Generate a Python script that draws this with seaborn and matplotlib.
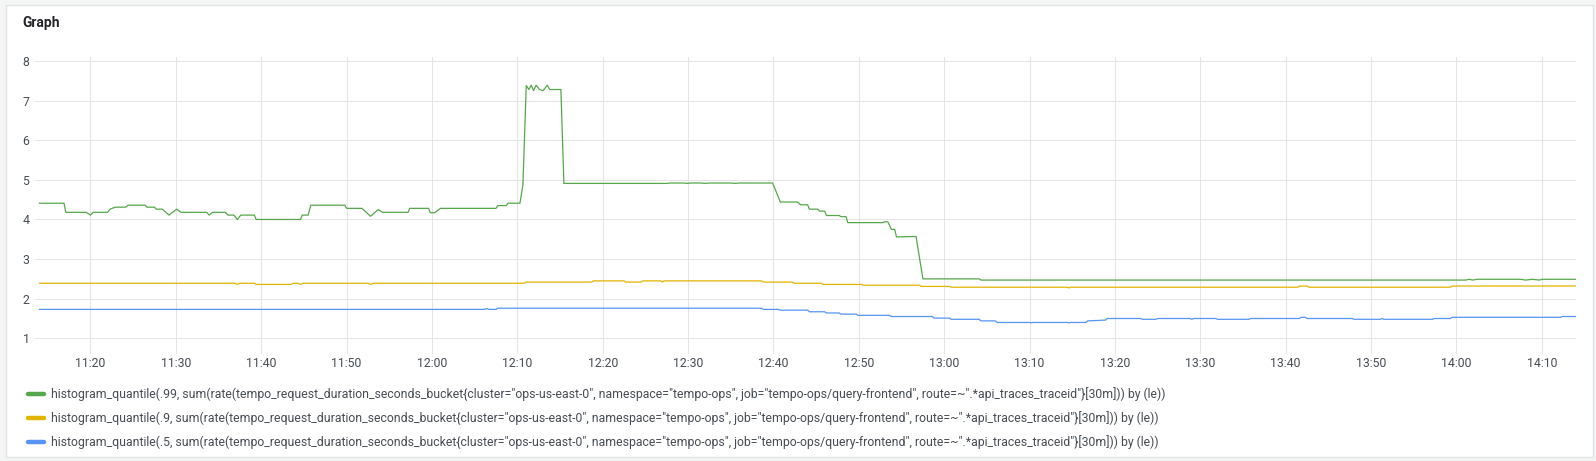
import numpy as np
import pandas as pd
import matplotlib
matplotlib.use("Agg")
import matplotlib.pyplot as plt
import matplotlib.dates as mdates
from matplotlib.patches import Rectangle
from matplotlib.lines import Line2D
import seaborn as sns

# ---------------- data (minutes after 11:14, value in seconds) ----------------
start_time = "2021-06-01 11:14:00"

series_names = [
    'histogram_quantile(.99, sum(rate(tempo_request_duration_seconds_bucket{cluster="ops-us-east-0", namespace="tempo-ops", job="tempo-ops/query-frontend", route=~".*api_traces_traceid"}[30m])) by (le))',
    'histogram_quantile(.9, sum(rate(tempo_request_duration_seconds_bucket{cluster="ops-us-east-0", namespace="tempo-ops", job="tempo-ops/query-frontend", route=~".*api_traces_traceid"}[30m])) by (le))',
    'histogram_quantile(.5, sum(rate(tempo_request_duration_seconds_bucket{cluster="ops-us-east-0", namespace="tempo-ops", job="tempo-ops/query-frontend", route=~".*api_traces_traceid"}[30m])) by (le))',
]
series_colors = ["#56a64b", "#e0b400", "#5794f2"]

p99_min = [0, 2.9, 3.1, 5.5, 6.0, 6.3, 8.0, 8.3, 8.9, 10.1, 10.4, 12.4, 12.6, 13.5, 13.7, 14.4,
           15.2, 16.1, 16.6, 19.6, 19.9, 20.3, 21.8, 22.1, 22.8, 23.2, 23.6, 25.2, 25.4, 30.6,
           30.8, 31.5, 31.8, 35.8, 36.0, 37.8, 38.2, 38.8, 39.7, 40.2, 43.2, 43.4, 45.6, 45.8,
           46.3, 47.0, 53.5, 53.7, 54.7, 54.9, 56.3, 56.65, 57.04, 57.35, 57.63, 57.9, 58.2,
           58.6, 59.0, 59.2, 59.5, 59.8, 61.1, 61.45, 73.6, 73.8, 75.5, 75.8, 76.3, 77.5, 78.0,
           78.5, 81.0, 81.5, 82.0, 85.9, 86.8, 88.8, 89.2, 90.0, 90.2, 91.2, 91.4, 92.0, 92.2,
           93.7, 93.9, 94.5, 94.7, 98.8, 99.0, 99.4, 99.8, 100.2, 100.4, 102.7, 103.5, 110.1,
           110.3, 167.1, 167.5, 167.9, 168.4, 173.5, 174.1, 174.9, 175.7, 176.0, 180]
p99_val = [4.41, 4.41, 4.18, 4.18, 4.11, 4.18, 4.18, 4.26, 4.31, 4.31, 4.36, 4.36, 4.31, 4.31, 4.26, 4.26,
           4.11, 4.26, 4.18, 4.18, 4.11, 4.18, 4.18, 4.11, 4.11, 4.00, 4.11, 4.11, 4.00, 4.00,
           4.11, 4.11, 4.36, 4.36, 4.28, 4.28, 4.20, 4.08, 4.25, 4.18, 4.18, 4.28, 4.28, 4.17,
           4.17, 4.28, 4.28, 4.35, 4.35, 4.41, 4.41, 4.87, 7.38, 7.28, 7.39, 7.25, 7.39,
           7.28, 7.25, 7.30, 7.39, 7.28, 7.28, 4.91, 4.91, 4.92, 4.92, 4.91, 4.92, 4.92, 4.91,
           4.92, 4.92, 4.91, 4.92, 4.92, 4.44, 4.44, 4.37, 4.37, 4.26, 4.26, 4.21, 4.21, 4.10,
           4.10, 4.07, 4.07, 3.92, 3.92, 3.94, 3.94, 3.75, 3.75, 3.56, 3.57, 2.50, 2.50,
           2.47, 2.47, 2.49, 2.47, 2.49, 2.49, 2.47, 2.49, 2.47, 2.49, 2.49]

p90_min = [0, 22.9, 23.2, 23.5, 25.2, 25.4, 29.5, 29.7, 30.3, 30.6, 30.9, 38.5, 38.8, 39.1,
           56.8, 57.0, 64.7, 64.9, 68.5, 68.7, 70.5, 70.7, 72.8, 73.0, 73.2, 84.6, 84.8, 88.2,
           88.4, 91.6, 91.8, 96.3, 96.5, 103.1, 103.3, 106.6, 106.8, 120.4, 120.6, 120.8,
           147.4, 147.6, 148.5, 148.7, 165.3, 165.5, 180]
p90_val = [2.39, 2.39, 2.36, 2.39, 2.39, 2.36, 2.36, 2.39, 2.39, 2.36, 2.39, 2.39, 2.36, 2.39,
           2.39, 2.42, 2.42, 2.45, 2.45, 2.42, 2.42, 2.45, 2.45, 2.42, 2.45, 2.45, 2.42, 2.42,
           2.39, 2.39, 2.36, 2.36, 2.34, 2.34, 2.31, 2.31, 2.29, 2.29, 2.27, 2.29,
           2.29, 2.32, 2.32, 2.29, 2.29, 2.32, 2.32]

p50_min = [0, 52.1, 52.4, 52.7, 53.5, 53.7, 84.6, 84.8, 86.6, 86.8, 90.0, 90.2, 92.0, 92.2,
           93.7, 93.9, 95.7, 95.9, 99.6, 99.8, 104.6, 104.8, 106.6, 106.8, 110.1, 110.3,
           112.0, 112.2, 116.0, 116.2, 116.4, 120.4, 120.6, 120.8, 122.6, 122.8, 124.9, 125.1,
           129.0, 129.2, 130.8, 131.0, 134.8, 135.0, 135.2, 137.8, 138.0, 141.7, 141.9,
           147.6, 147.8, 148.3, 148.5, 153.8, 154.0, 157.1, 157.3, 157.5, 163.2, 163.4,
           165.3, 165.5, 178.2, 178.4, 180]
p50_val = [1.73, 1.73, 1.75, 1.73, 1.73, 1.76, 1.76, 1.73, 1.73, 1.71, 1.71, 1.67, 1.67, 1.64,
           1.64, 1.61, 1.61, 1.58, 1.58, 1.55, 1.55, 1.51, 1.51, 1.48, 1.48, 1.44,
           1.44, 1.40, 1.40, 1.39, 1.40, 1.40, 1.39, 1.40, 1.40, 1.44, 1.46, 1.50,
           1.50, 1.48, 1.48, 1.50, 1.50, 1.48, 1.50, 1.50, 1.48, 1.48, 1.50,
           1.50, 1.53, 1.53, 1.50, 1.50, 1.48, 1.48, 1.50, 1.48, 1.48, 1.50,
           1.50, 1.53, 1.53, 1.55, 1.55]

y_ticks = [1, 2, 3, 4, 5, 6, 7, 8]

assert len(p99_min) == len(p99_val)
assert len(p90_min) == len(p90_val)
assert len(p50_min) == len(p50_val)

# ---------------- build long-form table ----------------
t0 = pd.Timestamp(start_time)
frames = []
for name, mins, vals in zip(series_names, [p99_min, p90_min, p50_min], [p99_val, p90_val, p50_val]):
    frames.append(pd.DataFrame({
        "time": t0 + pd.to_timedelta(mins, unit="min"),
        "value": vals,
        "series": name,
    }))
df = pd.concat(frames, ignore_index=True)

# ---------------- figure ----------------
sns.set_style("white")
plt.rcParams['font.family'] = ['Roboto', 'DejaVu Sans']

W, H = 1596, 461
fig = plt.figure(figsize=(W / 100, H / 100), dpi=100)
fig.patch.set_facecolor("#f4f5f5")

# white panel (behind the axes)
panel = Rectangle((5.5 / W, (H - 456.5) / H), (1592.5 - 5.5) / W, (456.5 - 5.5) / H,
                  transform=fig.transFigure, facecolor="white", edgecolor="#e1e3e6",
                  linewidth=1.0, zorder=-10)
fig.patches.append(panel)

ax = fig.add_axes([35 / W, (H - 354) / H, (1576 - 35) / W, (354 - 57.3) / H])
ax.set_zorder(5)
ax.set_facecolor("white")

sns.lineplot(data=df, x="time", y="value", hue="series", hue_order=series_names,
             palette=series_colors, estimator=None, sort=False, linewidth=0.9,
             legend=False, ax=ax)

ax.set_xlim(t0 - pd.Timedelta(minutes=0.5), t0 + pd.Timedelta(minutes=180))
ax.set_ylim(0.604, 8.093)
ax.set_yticks(y_ticks)
ax.set_yticklabels([str(v) for v in y_ticks])
ax.xaxis.set_major_locator(mdates.MinuteLocator(byminute=range(0, 60, 10)))
ax.xaxis.set_major_formatter(mdates.DateFormatter("%H:%M"))

ax.set_xlabel("")
ax.set_ylabel("")
ax.grid(True, color="#e4e4e4", linewidth=0.75)
ax.set_axisbelow(True)
for s in ax.spines.values():
    s.set_visible(False)
ax.tick_params(axis="both", length=0, labelsize=8.8, colors="#464c54")
ax.tick_params(axis="y", pad=4)
ax.tick_params(axis="x", pad=2)

# title
fig.text(22 / W, 1 - 23 / H, "Graph", fontsize=10, fontweight="bold",
         color="#202226", va="center", ha="left")

# legend
handles = [Line2D([0], [0], color=c, linewidth=3.2) for c in series_colors]
leg = fig.legend(handles, series_names, loc="upper left",
                 bbox_to_anchor=(28 / W, 1 - 387.5 / H),
                 frameon=False, fontsize=8.85, handlelength=1.3, handletextpad=0.6,
                 labelspacing=0.8, borderpad=0, borderaxespad=0)
for txt in leg.get_texts():
    txt.set_color("#464c54")

fig.savefig("out.png", dpi=100, facecolor=fig.get_facecolor())
